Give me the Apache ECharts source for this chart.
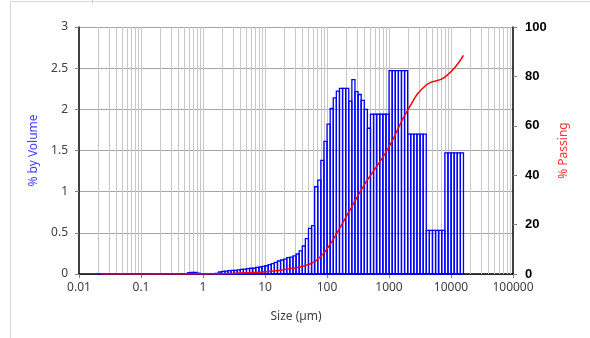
<!DOCTYPE html>
<html><head><meta charset="utf-8">
<script src="https://cdn.jsdelivr.net/npm/echarts@6/dist/echarts.min.js"></script>
<style>html,body{margin:0;padding:0;background:#fff}#c{width:590px;height:338px}</style>
</head><body><div id="c"></div>
<script>
// Bin edges (µm)
const binEdges = [0.02,0.02244,0.02518,0.02825,0.0317,0.03557,0.03991,0.04477,0.05024,0.05637,
0.06325,0.07096,0.07962,0.08934,0.1002,0.1125,0.1262,0.1416,0.1589,0.1783,
0.2,0.2244,0.2518,0.2825,0.317,0.3557,0.3991,0.4477,0.5024,0.5637,
0.6325,0.7096,0.7962,0.8934,1.002,1.125,1.262,1.416,1.589,1.783,
2,2.244,2.518,2.825,3.17,3.557,3.991,4.477,5.024,5.637,
6.325,7.096,7.962,8.934,10.02,11.25,12.62,14.16,15.89,17.83,
20,22.44,25.18,28.25,31.7,35.57,39.91,44.77,50.24,56.37,
63.25,70.96,79.62,89.34,100.2,112.5,126.2,141.6,158.9,178.3,
200,224.4,251.8,282.5,317,355.7,399.1,447.7,502.4,563.7,
632.5,709.6,796.2,893.4,1002,1125,1262,1416,1589,1783,
2000,2244,2518,2825,3170,3557,3991,4477,5024,5637,
6325,7096,7962,8934,10020,11250,12620,14160,15890];
// % by volume per bin
const volume = [0,0,0,0,0,0,0,0,0,0,
0,0,0,0,0,0,0,0,0,0,
0,0,0,0,0,0,0,0,0,0.015,
0.02,0.02,0.01,0,0,0,0,0,0.008,0.024,
0.032,0.036,0.04,0.045,0.045,0.049,0.055,0.06,0.065,0.07,
0.07,0.08,0.085,0.093,0.10,0.113,0.125,0.14,0.158,0.17,
0.18,0.198,0.206,0.219,0.243,0.28,0.34,0.43,0.555,0.587,
1.06,1.14,1.38,1.61,1.82,2.01,2.14,2.22,2.255,2.255,
2.255,2.10,2.36,2.215,2.18,2.11,2.0,1.77,1.94,1.94,
1.94,1.94,1.94,1.94,2.47,2.47,2.47,2.47,2.47,2.47,
1.70,1.70,1.70,1.70,1.70,1.70,0.53,0.53,0.53,0.53,
0.53,0.53,1.47,1.47,1.47,1.47,1.47,1.47];
// % passing curve
const passingSizes = [0.02244,0.5637,0.8934,1.589,2,3.17,5.024,7.962,12.62,20,25.18,31.7,39.91,44.77,50.24,56.37,
63.25,70.96,79.62,89.34,100.2,112.5,126.2,141.6,158.9,178.3,200,224.4,251.8,282.5,317,355.7,399.1,447.7,502.4,
1002,2000,3991,7962,15890];
const passing = [0,0,0.07,0.07,0.1,0.25,0.46,0.74,1.14,1.73,2.1,2.53,3.05,3.39,3.82,4.38,
4.97,6.03,7.17,8.55,10.16,11.98,13.99,16.13,18.35,20.6,22.86,25.11,27.21,29.57,31.79,33.97,36.08,38.08,39.85,
51.49,66.31,76.51,79.69,88.5];
const xTickLabels = ['0.01','0.1','1','10','100','1000','10000','100000'];

const barData = volume.map((v, i) => [binEdges[i], binEdges[i + 1], v]);
const gridLines = [];
for (let d = -2; d < 5; d++) {
  for (let m = 1; m < 10; m++) {
    if (d === -2 && m === 1) continue;
    gridLines.push([m * Math.pow(10, d), 0]);
  }
}

const chart = echarts.init(document.getElementById('c'), null, {renderer: 'canvas'});
const FONT = 'Noto Sans';
chart.setOption({
  animation: false,
  backgroundColor: '#fff',
  textStyle: {fontFamily: FONT},
  grid: {left: 79, right: 77, top: 27, bottom: 64},
  graphic: [
    {type: 'rect', shape: {x: 10.5, y: 1.5, width: 700, height: 500}, style: {fill: 'none', stroke: '#d9d9d9', lineWidth: 1}, silent: true},
    {type: 'line', shape: {x1: 92.5, y1: 0, x2: 92.5, y2: 4}, style: {stroke: '#cccccc', lineWidth: 1}, silent: true}
  ],
  xAxis: {
    type: 'log', logBase: 10, min: 0.01, max: 100000, splitNumber: 7,
    axisLine: {lineStyle: {color: '#000', width: 1.5}},
    axisTick: {show: true, length: 4, lineStyle: {color: '#808080'}},
    axisLabel: {color: '#404040', fontSize: 12, margin: 8,
      formatter: v => xTickLabels[Math.round(Math.log10(v)) + 2]},
    splitLine: {show: false},
    minorTick: {show: false},
    name: 'Size (µm)', nameLocation: 'middle', nameGap: 37,
    nameTextStyle: {color: '#404040', fontSize: 12}
  },
  yAxis: [
    {
      type: 'value', min: 0, max: 3, interval: 0.5,
      axisLine: {show: true, lineStyle: {color: '#000', width: 1.5}},
      axisTick: {show: true, length: 4, lineStyle: {color: '#808080'}},
      axisLabel: {color: '#404040', fontSize: 12, margin: 11},
      splitLine: {show: true, lineStyle: {color: '#a6a6a6', width: 1}},
      name: '% by Volume', nameLocation: 'middle', nameGap: 39, nameRotate: 90,
      nameTextStyle: {color: '#4040ff', fontSize: 12}
    },
    {
      type: 'value', min: 0, max: 100, interval: 20, position: 'right',
      axisLine: {show: true, lineStyle: {color: '#000', width: 1.5}},
      axisTick: {show: true, length: 4, lineStyle: {color: '#808080'}},
      axisLabel: {color: '#000', fontSize: 13, fontWeight: 'bold', fontFamily: 'Liberation Sans', margin: 12},
      splitLine: {show: false},
      name: '% Passing', nameLocation: 'middle', nameGap: 40, nameRotate: 90,
      nameTextStyle: {color: '#ff3333', fontSize: 12}
    }
  ],
  series: [
    {
      type: 'custom', coordinateSystem: 'cartesian2d', z: 1, silent: true,
      data: gridLines, encode: {x: 0, y: 1},
      renderItem: (params, api) => {
        const p1 = api.coord([api.value(0), 0]);
        const p2 = api.coord([api.value(0), 3]);
        const x = Math.round(p1[0]) + 0.5;
        return {type: 'line', shape: {x1: x, y1: p1[1], x2: x, y2: p2[1]},
          style: {stroke: '#c8c8c8', lineWidth: 1}};
      }
    },
    {
      type: 'custom', coordinateSystem: 'cartesian2d', z: 3, silent: true,
      data: barData, encode: {x: [0, 1], y: 2},
      renderItem: (params, api) => {
        const p1 = api.coord([api.value(0), api.value(2)]);
        const p2 = api.coord([api.value(1), 0]);
        return {type: 'rect', shape: {x: p1[0], y: p1[1], width: p2[0] - p1[0], height: p2[1] - p1[1]},
          style: {fill: 'rgba(255,255,255,0)', stroke: '#0000ff', lineWidth: 1.3}};
      }
    },
    {
      type: 'line', yAxisIndex: 1, z: 4, smooth: 0.5, showSymbol: false, silent: true,
      data: passingSizes.map((s, i) => [s, passing[i]]),
      lineStyle: {color: '#ff0000', width: 1.5}
    }
  ]
});
</script></body></html>
